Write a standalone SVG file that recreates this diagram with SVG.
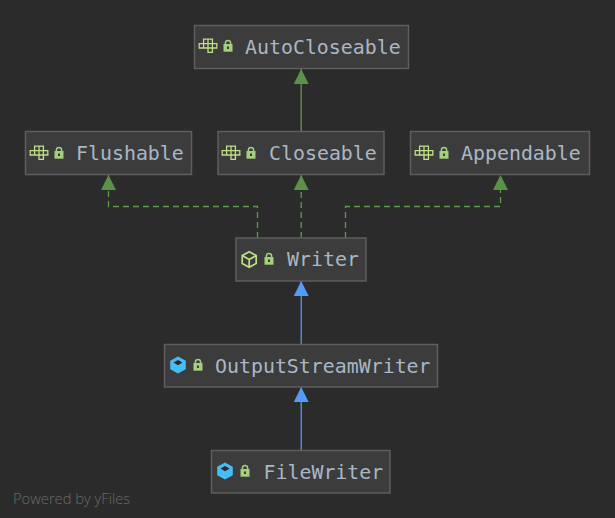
<svg xmlns="http://www.w3.org/2000/svg" width="615" height="518" viewBox="0 0 615 518">
<style>
.box{fill:#3c3c3c;stroke:#5e5e5e;stroke-width:1.5}
.lbl{font-family:"DejaVu Sans Mono",monospace;font-size:19.9px;fill:#a9b7c6}
.g{stroke:#5f9a4b;stroke-width:1.3;fill:none}
.d{stroke-dasharray:6 4}
.b{stroke:#559af0;stroke-width:1.3;fill:none}
.wm{font-family:"Open Sans","Liberation Sans",sans-serif;font-size:14.700px;font-weight:300;fill:#6a6a6a}
</style>
<defs>
<marker id="ag" markerUnits="userSpaceOnUse" markerWidth="16" markerHeight="16" refX="15" refY="7.5" orient="auto"><path d="M0 0L15 7.5L0 15Z" fill="#5b9149"/></marker>
<marker id="ab" markerUnits="userSpaceOnUse" markerWidth="16" markerHeight="16" refX="15" refY="7.5" orient="auto"><path d="M0 0L15 7.5L0 15Z" fill="#549bf5"/></marker>
<g id="lock"><path d="M-2.600 -2V-3a2.600 2.600 0 0 1 5.200 0V-2" fill="none" stroke="#a4cf7c" stroke-width="1.500"/><rect x="-4.500" y="-2" width="9" height="7.700" fill="#a4cf7c"/><rect x="-1" y="0.500" width="2" height="2.500" fill="#3c3c3c"/></g>
<g id="iface" fill="none" stroke="#bfdf88" stroke-width="1.300"><path d="M-8.800 -2.400H-4.400V-6.800H4.400V-2.400H8.800V2H4.400V6.400H0V2H-8.800Z"/><path d="M-4.400 -2.400V2M0 -6.800V2M4.400 -2.400V2M-4.400 -2.400H4.400M0 2H4.400"/></g>
<g id="acls" fill="none" stroke="#bfdf88" stroke-width="1.700"><path d="M0 -7.800L7 -3.900V3.900L0 7.800L-7 3.900V-3.900Z"/><path d="M-7 -3.900L0 0L7 -3.900M0 0V7.800"/></g>
<g id="cls"><path d="M0 -8.500L7.800 -4.200V4.200L0 8.500L-7.800 4.200V-4.200Z" fill="#45bdf6"/><path d="M-4.500 -2.400L0 -4.900L4.500 -2.400L0 0.200Z" fill="#2b2b2b"/></g>
</defs>
<rect width="615" height="518" fill="#2b2b2b"/>
<g id="connectors">
<path class="g" d="M301.200 131V69" marker-end="url(#ag)"/>
<path class="g d" d="M257.500 238V206.500H108.500V175" marker-end="url(#ag)"/>
<path class="g d" d="M301.200 238V175" marker-end="url(#ag)"/>
<path class="g d" d="M345.500 238V206.500H500.500V175" marker-end="url(#ag)"/>
<path class="b" d="M301.200 344V281" marker-end="url(#ab)"/>
<path class="b" d="M301.200 450V387" marker-end="url(#ab)"/>
</g>
<g id="AutoCloseable"><rect class="box" x="194.500" y="25.500" width="214" height="43"/><use href="#iface" x="208" y="46"/><use href="#lock" x="228" y="46"/><text class="lbl" x="245" y="53.500">AutoCloseable</text></g>
<g id="Flushable"><rect class="box" x="25.500" y="131.500" width="166" height="43"/><use href="#iface" x="39" y="153"/><use href="#lock" x="59" y="153"/><text class="lbl" x="76" y="159.500">Flushable</text></g>
<g id="Closeable"><rect class="box" x="218" y="131.500" width="166" height="43"/><use href="#iface" x="231" y="153"/><use href="#lock" x="251" y="153"/><text class="lbl" x="269" y="159.500">Closeable</text></g>
<g id="Appendable"><rect class="box" x="410.500" y="131.500" width="179" height="43"/><use href="#iface" x="424" y="153"/><use href="#lock" x="444" y="153"/><text class="lbl" x="461" y="159.500">Appendable</text></g>
<g id="Writer"><rect class="box" x="236" y="238" width="130" height="43"/><use href="#acls" x="249.200" y="259.500"/><use href="#lock" x="269" y="259"/><text class="lbl" x="287" y="265.500">Writer</text></g>
<g id="OutputStreamWriter"><rect class="box" x="164.500" y="344.500" width="273" height="42.500"/><use href="#cls" x="178" y="365"/><use href="#lock" x="198" y="365"/><text class="lbl" x="215" y="373">OutputStreamWriter</text></g>
<g id="FileWriter"><rect class="box" x="211.500" y="450.500" width="178.500" height="42.500"/><use href="#cls" x="225" y="471"/><use href="#lock" x="245" y="471"/><text class="lbl" x="263.500" y="479">FileWriter</text></g>
<text class="wm" x="13" y="504">Powered by yFiles</text>
</svg>
